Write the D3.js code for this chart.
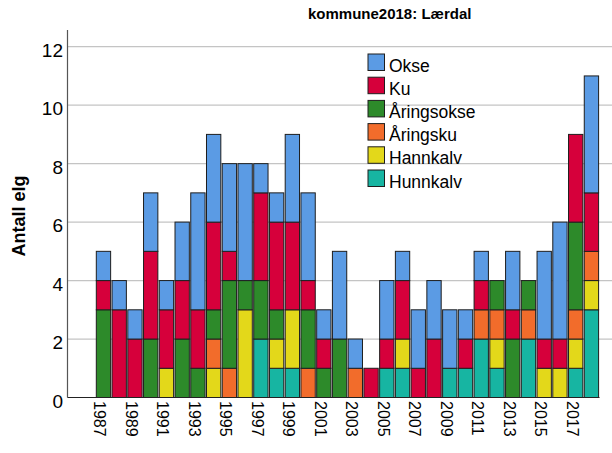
<!DOCTYPE html>
<html>
<head>
<meta charset="utf-8">
<script src="https://cdn.jsdelivr.net/npm/d3@7"></script>
<style>
  html, body { margin: 0; padding: 0; background: #fff; }
  svg { display: block; font-family: "Liberation Sans", Arial, sans-serif; }
</style>
</head>
<body>
<svg id="chart" width="612" height="453"></svg>
<script>
// ---- data ----
const years = d3.range(1987, 2019).map(String);
const tickLabels = ["1987","1989","1991","1993","1995","1997","1999","2001","2003","2005","2007","2009","2011","2013","2015","2017"];
const yTicks = [0, 2, 4, 6, 8, 10, 12];
const seriesNames = ["Okse", "Ku", "Åringsokse", "Åringsku", "Hannkalv", "Hunnkalv"];
const okse       = [1,1,1,2,1,2,4,3,3,4,1,1,3,3,1,3,1,0,2,1,2,2,2,1,1,0,2,0,3,4,0,4];
const ku         = [1,3,2,3,2,2,2,3,1,0,3,3,3,1,1,0,0,1,1,2,1,2,0,1,1,0,1,0,1,1,3,2];
const aringsokse = [3,0,0,2,0,2,1,1,3,1,2,1,0,2,1,2,0,0,0,0,0,0,0,0,0,1,2,1,0,0,3,0];
const aringsku   = [0,0,0,0,0,0,0,1,1,0,0,0,0,1,0,0,1,0,0,0,0,0,0,0,1,1,0,1,0,0,1,1];
const hannkalv   = [0,0,0,0,1,0,0,1,0,3,0,1,2,0,0,0,0,0,0,1,0,0,0,0,0,1,0,0,1,1,1,1];
const hunnkalv   = [0,0,0,0,0,0,0,0,0,0,2,1,1,0,0,0,0,0,1,1,0,0,1,1,2,1,0,2,0,0,1,3];
const colors = ["#5b9be4", "#d6003b", "#2d8a2a", "#f26c2b", "#e3d81a", "#17b5a2"];

// ---- build table ----
const seriesValues = [okse, ku, aringsokse, aringsku, hannkalv, hunnkalv];
const table = years.map((y, i) => {
  const row = { year: y };
  seriesNames.forEach((s, k) => row[s] = seriesValues[k][i]);
  return row;
});
const stackOrder = ["Hunnkalv", "Hannkalv", "Åringsku", "Åringsokse", "Ku", "Okse"];
const colorOf = d3.scaleOrdinal().domain(seriesNames).range(colors);
const stacked = d3.stack().keys(stackOrder)(table);

const svg = d3.select("#chart");
const axisX0 = 67.5, plotTop = 30, plotBottom = 397.5;

const x = d3.scaleBand().domain(years).range([95.6, 599.3]).paddingInner(0.09).paddingOuter(0.045);
const y = d3.scaleLinear().domain([0, 12]).range([plotBottom, 46.7]);

// gridlines
svg.append("g").selectAll("line").data(yTicks.filter(t => t > 0)).join("line")
  .attr("x1", axisX0).attr("x2", 612)
  .attr("y1", d => y(d)).attr("y2", d => y(d))
  .attr("stroke", "#c4c4c4").attr("stroke-width", 1.2);

// bars
svg.append("g").selectAll("g").data(stacked).join("g")
  .attr("fill", d => colorOf(d.key))
  .selectAll("rect").data(d => d.filter(s => s[1] > s[0])).join("rect")
  .attr("x", d => x(d.data.year))
  .attr("width", x.bandwidth())
  .attr("y", d => y(d[1]))
  .attr("height", d => y(d[0]) - y(d[1]))
  .attr("stroke", "#1e1e1e").attr("stroke-width", 1);

// axes lines
svg.append("line").attr("x1", axisX0).attr("x2", axisX0).attr("y1", plotTop).attr("y2", plotBottom)
  .attr("stroke", "#555").attr("stroke-width", 1.2);
svg.append("line").attr("x1", axisX0).attr("x2", 599.5).attr("y1", plotBottom).attr("y2", plotBottom)
  .attr("stroke", "#222").attr("stroke-width", 1.2);

// y tick labels
svg.append("g").selectAll("text").data(yTicks).join("text")
  .attr("x", 63).attr("y", d => y(d) + 10)
  .attr("text-anchor", "end").attr("font-size", 19).attr("fill", "#000")
  .text(d => d);

// x tick labels (rotated)
svg.append("g").selectAll("text").data(tickLabels).join("text")
  .attr("transform", d => `translate(${x(d) + x.bandwidth() / 2},401) rotate(90)`)
  .attr("x", 0).attr("y", 9)
  .attr("text-anchor", "start").attr("font-size", 16).attr("fill", "#000")
  .text(d => d);

// y axis title
svg.append("text")
  .attr("transform", "translate(25,216) rotate(-90)")
  .attr("text-anchor", "middle").attr("font-size", 18).attr("font-weight", "bold")
  .text("Antall elg");

// title
svg.append("text").attr("x", 308).attr("y", 19)
  .attr("font-size", 15).attr("font-weight", "bold")
  .text("kommune2018: Lærdal");

// legend
const lg = svg.append("g").selectAll("g").data(seriesNames).join("g")
  .attr("transform", (d, i) => `translate(368,${54 + i * 23.2})`);
lg.append("rect").attr("width", 16.5).attr("height", 16.5)
  .attr("fill", d => colorOf(d)).attr("stroke", "#1e1e1e").attr("stroke-width", 1);
lg.append("text").attr("x", 21).attr("y", 17.5).attr("font-size", 17.5)
  .text(d => d);
</script>
</body>
</html>
